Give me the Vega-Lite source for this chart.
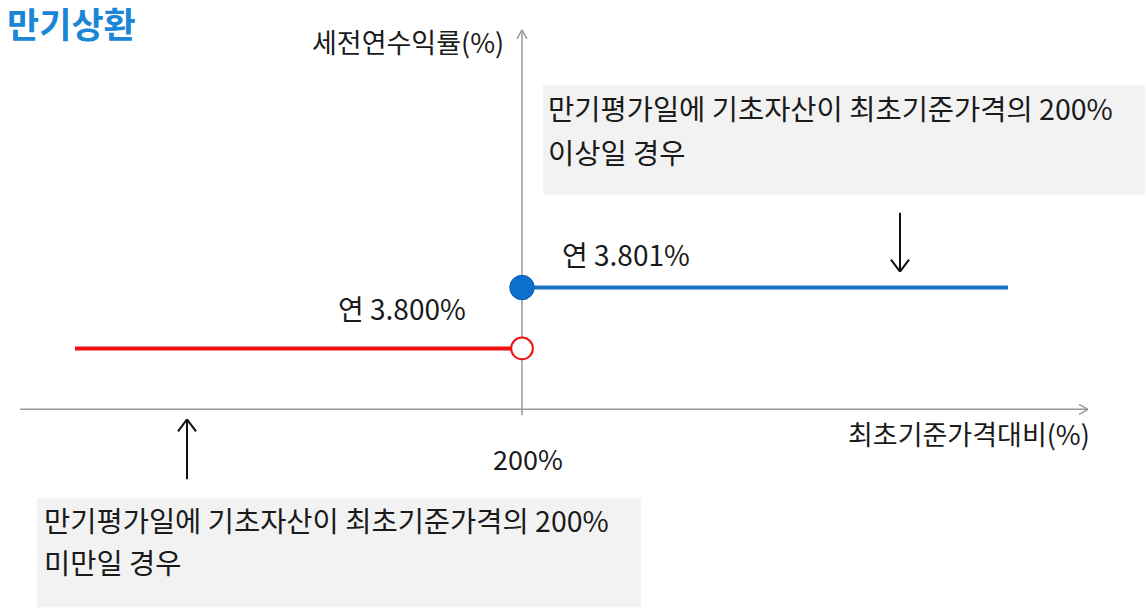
{
  "$schema": "https://vega.github.io/schema/vega-lite/v6.json",
  "width": 1146,
  "height": 608,
  "autosize": {"type": "fit", "contains": "padding"},
  "padding": 0,
  "background": "white",
  "config": {"view": {"stroke": null}, "text": {"font": "Noto Sans CJK KR"}},
  "datasets": {
    "boxes": [
      {"box": "above", "x": 543, "x2": 1145, "y": 85, "y2": 195},
      {"box": "below", "x": 37, "x2": 641, "y": 499, "y2": 608}
    ],
    "segments": [
      {"group": "axis", "x": 20, "x2": 1088, "y": 410, "y2": 410},
      {"group": "axis", "x": 1079, "x2": 1088, "y": 405, "y2": 410},
      {"group": "axis", "x": 1079, "x2": 1088, "y": 415, "y2": 410},
      {"group": "axis", "x": 522, "x2": 522, "y": 30, "y2": 416},
      {"group": "axis", "x": 517, "x2": 522, "y": 39, "y2": 30},
      {"group": "axis", "x": 527, "x2": 522, "y": 39, "y2": 30},
      {"group": "pointer", "x": 900, "x2": 900, "y": 213, "y2": 272},
      {"group": "pointer", "x": 891, "x2": 900, "y": 260, "y2": 272},
      {"group": "pointer", "x": 909, "x2": 900, "y": 260, "y2": 272},
      {"group": "pointer", "x": 187, "x2": 187, "y": 420, "y2": 480},
      {"group": "pointer", "x": 178, "x2": 187, "y": 432, "y2": 420},
      {"group": "pointer", "x": 196, "x2": 187, "y": 432, "y2": 420}
    ],
    "payoff": [
      {"case": "below", "x": 75, "x2": 511, "y": 349, "label": "연 3.800%"},
      {"case": "above", "x": 522, "x2": 1008, "y": 288, "label": "연 3.801%"}
    ],
    "labels": [
      {"kind": "axis", "x": 312, "y": 45, "text": "세전연수익률(%)"},
      {"kind": "axis", "x": 848, "y": 438, "text": "최초기준가격대비(%)"},
      {"kind": "axis", "x": 493, "y": 463, "text": "200%"},
      {"kind": "rate", "x": 562, "y": 258, "text": "연 3.801%"},
      {"kind": "rate", "x": 338, "y": 313, "text": "연 3.800%"},
      {"kind": "note", "x": 548, "y": 111, "text": "만기평가일에 기초자산이 최초기준가격의 200%"},
      {"kind": "note", "x": 548, "y": 155, "text": "이상일 경우"},
      {"kind": "note", "x": 44, "y": 524, "text": "만기평가일에 기초자산이 최초기준가격의 200%"},
      {"kind": "note", "x": 44, "y": 566, "text": "미만일 경우"},
      {"kind": "title", "x": 7, "y": 27, "text": "만기상환"}
    ]
  },
  "encoding": {
    "x": {"field": "x", "type": "quantitative", "axis": null, "scale": {"domain": [0, 1146], "nice": false, "zero": false}},
    "y": {"field": "y", "type": "quantitative", "axis": null, "scale": {"domain": [0, 608], "nice": false, "zero": false, "reverse": true}}
  },
  "layer": [
    {
      "data": {"name": "boxes"},
      "mark": {"type": "rect", "fill": "#f2f2f2", "stroke": "#f7f7f7", "strokeWidth": 1},
      "encoding": {"x2": {"field": "x2"}, "y2": {"field": "y2"}}
    },
    {
      "data": {"name": "segments"},
      "transform": [{"filter": "datum.group === 'axis'"}],
      "mark": {"type": "rule", "color": "#9a9a9a", "strokeWidth": 1.5},
      "encoding": {"x2": {"field": "x2"}, "y2": {"field": "y2"}}
    },
    {
      "data": {"name": "segments"},
      "transform": [{"filter": "datum.group === 'pointer'"}],
      "mark": {"type": "rule", "color": "#111111", "strokeWidth": 2},
      "encoding": {"x2": {"field": "x2"}, "y2": {"field": "y2"}}
    },
    {
      "data": {"name": "payoff"},
      "transform": [{"filter": "datum.case === 'below'"}],
      "mark": {"type": "rule", "color": "#ee1111", "strokeWidth": 4},
      "encoding": {"x2": {"field": "x2"}}
    },
    {
      "data": {"name": "payoff"},
      "transform": [{"filter": "datum.case === 'above'"}],
      "mark": {"type": "rule", "color": "#1a72c4", "strokeWidth": 4},
      "encoding": {"x2": {"field": "x2"}}
    },
    {
      "data": {"name": "payoff"},
      "transform": [{"filter": "datum.case === 'below'"}, {"calculate": "522", "as": "cx"}],
      "mark": {"type": "point", "shape": "circle", "filled": true, "fill": "white", "stroke": "#ee1111", "strokeWidth": 2, "size": 470, "opacity": 1},
      "encoding": {"x": {"field": "cx", "type": "quantitative"}}
    },
    {
      "data": {"name": "payoff"},
      "transform": [{"filter": "datum.case === 'above'"}],
      "mark": {"type": "point", "shape": "circle", "filled": true, "fill": "#0b6fce", "stroke": "#0a5aa8", "strokeWidth": 1, "size": 600, "opacity": 1}
    },
    {
      "data": {"name": "labels"},
      "transform": [{"filter": "datum.kind === 'axis'"}],
      "mark": {"type": "text", "align": "left", "baseline": "middle", "fontSize": 27, "color": "#1a1a1a"},
      "encoding": {"text": {"field": "text"}}
    },
    {
      "data": {"name": "labels"},
      "transform": [{"filter": "datum.kind === 'rate'"}],
      "mark": {"type": "text", "align": "left", "baseline": "middle", "fontSize": 28, "color": "#1a1a1a"},
      "encoding": {"text": {"field": "text"}}
    },
    {
      "data": {"name": "labels"},
      "transform": [{"filter": "datum.kind === 'note'"}],
      "mark": {"type": "text", "align": "left", "baseline": "middle", "fontSize": 28.5, "color": "#1a1a1a"},
      "encoding": {"text": {"field": "text"}}
    },
    {
      "data": {"name": "labels"},
      "transform": [{"filter": "datum.kind === 'title'"}],
      "mark": {"type": "text", "align": "left", "baseline": "middle", "fontSize": 35, "fontWeight": "bold", "color": "#1a86d6"},
      "encoding": {"text": {"field": "text"}}
    }
  ]
}
